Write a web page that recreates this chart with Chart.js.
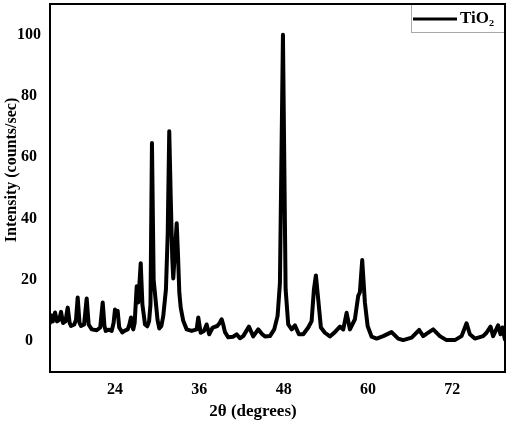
<!DOCTYPE html>
<html>
<head>
<meta charset="utf-8">
<script src="https://cdn.jsdelivr.net/npm/chart.js@4"></script>
<style>
html,body{margin:0;padding:0;background:#fff;}
#wrap{width:512px;height:424px;}
</style>
</head>
<body>
<div id="wrap"><canvas id="c" width="512" height="424"></canvas></div>
<script>
const twoTheta=[14.75,14.90,15.15,15.47,15.75,16.05,16.32,16.60,16.95,17.27,17.55,17.74,18.20,18.45,18.69,18.95,19.16,19.60,19.97,20.25,20.69,21.40,21.90,22.25,22.50,22.68,23.10,23.53,23.80,24.00,24.20,24.38,24.60,25.04,25.40,25.81,26.05,26.28,26.45,26.60,26.80,27.09,27.31,27.66,27.90,28.27,28.59,28.85,29.05,29.26,29.50,29.84,30.05,30.30,30.60,30.87,31.25,31.50,31.72,31.95,32.15,32.29,32.55,32.78,32.97,33.15,33.35,33.72,34.20,34.91,35.62,35.85,36.19,36.66,37.04,37.41,37.90,38.55,38.90,39.18,39.40,39.65,40.12,40.83,41.31,41.78,42.25,43.06,43.67,44.38,44.95,45.34,46.05,46.66,47.14,47.47,47.90,48.28,48.65,49.14,49.60,50.17,50.79,51.50,51.98,52.31,52.59,52.92,53.30,53.87,54.58,55.29,56.01,56.48,56.96,57.43,58.14,58.61,58.85,59.18,59.56,59.95,60.52,61.23,62.17,63.36,64.30,65.01,66.21,67.29,67.86,68.42,69.28,70.23,71.18,72.36,73.32,74.03,74.50,75.21,76.39,76.87,77.44,77.81,78.52,78.86,79.15,79.48];
const intensity=[6.0,8.5,6.5,9.4,6.5,7.0,9.6,6.0,6.5,11.0,6.0,5.0,5.5,7.0,14.3,6.0,5.0,5.5,14.0,5.5,3.9,3.6,4.5,12.7,5.0,3.4,3.8,3.4,6.0,10.4,8.5,9.9,4.5,2.9,3.5,3.9,5.5,7.8,5.0,3.9,6.0,18.0,12.7,25.5,12.0,5.5,4.9,6.5,12.0,64.7,20.0,12.0,7.0,4.2,5.0,8.3,17.0,35.0,68.5,45.0,27.0,20.5,30.0,38.5,28.0,16.0,11.0,6.6,3.9,3.4,3.9,7.8,2.8,3.4,5.5,2.3,4.5,5.0,6.0,7.2,5.5,3.0,1.3,1.5,2.3,1.0,1.7,4.8,1.6,3.9,2.3,1.6,1.7,3.9,8.3,19.0,100,17.0,5.5,3.9,5.2,2.3,2.3,4.5,6.6,17.0,21.5,13.7,4.5,2.8,1.6,3.0,4.8,3.9,9.3,3.9,7.2,14.8,16.0,26.5,12.7,5.0,1.5,0.9,1.7,3.0,0.9,0.4,1.2,3.7,1.7,2.6,3.9,1.7,0.4,0.4,1.7,5.9,2.3,0.9,1.7,2.8,4.8,1.7,5.2,2.3,4.5,0.6];
const xTicks=[24,36,48,60,72];
const yTicks=[0,20,40,60,80,100];
const seriesName='TiO₂';
const xTitle='2θ (degrees)';
const yTitle='Intensity (counts/sec)';

const serif='"Liberation Serif","Times New Roman",serif';
const points=twoTheta.map((x,i)=>({x,y:intensity[i]}));

const framePlugin={
  id:'frame',
  afterDraw(chart){
    const a=chart.chartArea,ctx=chart.ctx;
    ctx.save();
    ctx.fillStyle='#000';
    // axis titles (slightly off-centre in the original)
    ctx.font='bold 17px '+serif;ctx.textAlign='center';ctx.textBaseline='middle';
    ctx.fillText(xTitle,253,412);
    ctx.save();ctx.translate(12,170);ctx.rotate(-Math.PI/2);
    ctx.font='bold 16px '+serif;ctx.fillText(yTitle,0,0);ctx.restore();
    // legend box
    const bx=411,by=a.top,bw=a.right-411,bh=28;
    ctx.strokeStyle='#aaa';ctx.lineWidth=1;
    ctx.strokeRect(bx+0.5,by+0.5,bw,bh);
    ctx.strokeStyle='#000';ctx.lineWidth=3;
    ctx.beginPath();ctx.moveTo(413,by+15);ctx.lineTo(457,by+15);ctx.stroke();
    ctx.font='bold 17px '+serif;ctx.textAlign='left';
    ctx.fillText(seriesName,460,by+15);
    // plot frame
    ctx.strokeStyle='#000';ctx.lineWidth=2;
    ctx.strokeRect(a.left,a.top,a.right-a.left,a.bottom-a.top);
    ctx.restore();
  }
};

new Chart(document.getElementById('c'),{
  type:'line',
  data:{datasets:[{label:seriesName,data:points,borderColor:'#000',borderWidth:4,pointRadius:0,tension:0,fill:false,borderJoinStyle:'round',borderCapStyle:'round'}]},
  options:{
    responsive:false,animation:false,devicePixelRatio:1,
    layout:{padding:{left:0,right:7,top:4,bottom:0}},
    plugins:{legend:{display:false},tooltip:{enabled:false}},
    scales:{
      x:{type:'linear',min:14.75,max:79.5,
        afterBuildTicks:s=>{s.ticks=xTicks.map(v=>({value:v}));},
        afterFit:s=>{s.height=52;s.paddingLeft=0;s.paddingRight=0;},
        grid:{display:false,drawTicks:false},border:{display:false},
        ticks:{autoSkip:false,maxRotation:0,padding:8,color:'#000',font:{family:serif,size:16,weight:'bold'}}
      },
      y:{min:-10,max:110,
        afterBuildTicks:s=>{s.ticks=yTicks.map(v=>({value:v}));},
        afterFit:s=>{s.width=50;s.paddingTop=0;s.paddingBottom=0;},
        grid:{display:false,drawTicks:false},border:{display:false},
        ticks:{autoSkip:false,padding:9,crossAlign:'center',color:'#000',font:{family:serif,size:16,weight:'bold'}}
      }
    }
  },
  plugins:[framePlugin]
});
</script>
</body>
</html>
